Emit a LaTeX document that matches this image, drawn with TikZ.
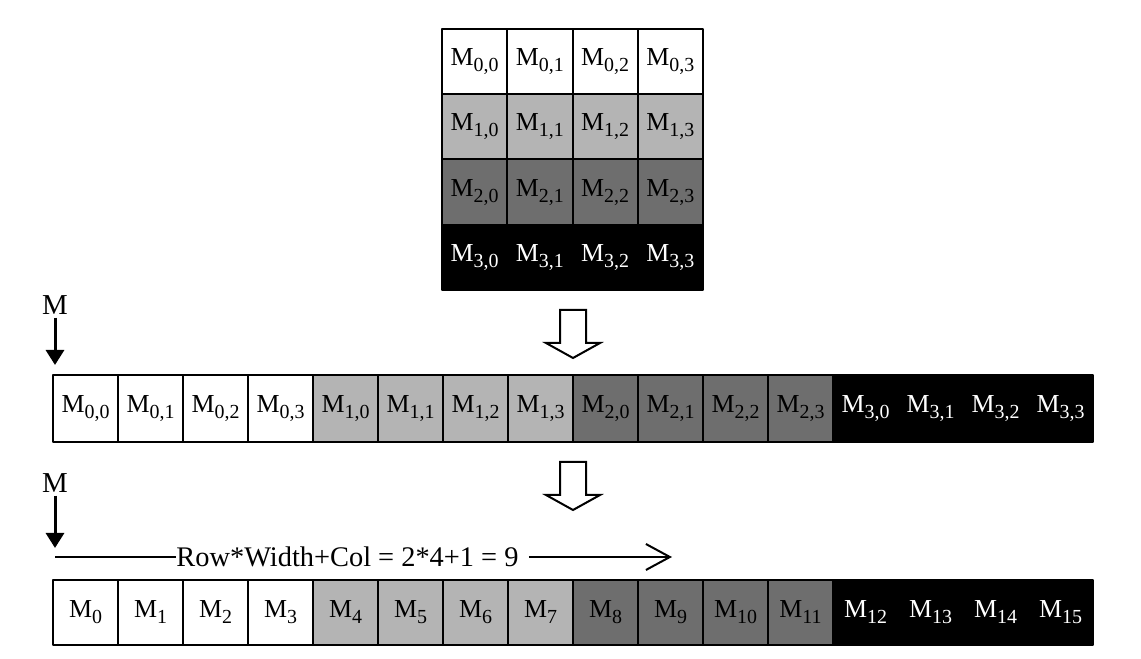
\documentclass[tikz,border=0pt]{standalone}
\usepackage{fontspec}
\setmainfont{Liberation Serif}
\usetikzlibrary{arrows.meta}
\definecolor{lightcell}{RGB}{180,180,180}
\definecolor{darkcell}{RGB}{110,110,110}
\newcommand{\Msub}[1]{M\raisebox{-6bp}{\fontsize{20}{20}\selectfont #1}}
\tikzset{
  cell/.style={draw=black,line width=2bp,rectangle,inner sep=0pt,font=\fontsize{26}{30}\selectfont},
  cellA/.style={cell,fill=white},
  cellB/.style={cell,fill=lightcell},
  cellC/.style={cell,fill=darkcell},
  cellD/.style={cell,fill=black,text=white},
  gridcell/.style={minimum width=65.25bp,minimum height=65.25bp},
  stripcell/.style={minimum width=65bp,minimum height=67bp},
  flatcell/.style={minimum width=65bp,minimum height=65bp},
  hollow/.style={draw=black,fill=white,line width=2bp,line join=miter},
  pointer/.style={font=\fontsize{29}{32}\selectfont,inner sep=3bp},
}
\begin{document}
\begin{tikzpicture}[>=latex,line join=bevel,x=1bp,y=1bp]
\useasboundingbox (0,0) rectangle (1141,659);
%% 4x4 matrix
\foreach \r/\sty in {0/cellA,1/cellB,2/cellC,3/cellD}{
  \foreach \c in {0,...,3}{
    \node (g\r\c) at ({442+65.25*(\c+0.5)},{630-65.25*(\r+0.5)}) [\sty,gridcell] {\Msub{\r,\c}};
  }
}
%% row by row
\foreach \r/\sty in {0/cellA,1/cellB,2/cellC,3/cellD}{
  \foreach \c in {0,...,3}{
    \pgfmathtruncatemacro{\i}{4*\r+\c}
    \node (s\i) at ({53+65*(\i+0.5)},250.5) [\sty,stripcell] {\Msub{\r,\c}};
  }
}
%% flat index
\foreach \r/\sty in {0/cellA,1/cellB,2/cellC,3/cellD}{
  \foreach \c in {0,...,3}{
    \pgfmathtruncatemacro{\i}{4*\r+\c}
    \node (l\i) at ({53+65*(\i+0.5)},46.5) [\sty,flatcell] {\Msub{\i}};
  }
}
%% hollow arrows
\foreach \yt in {349,197}{
  \draw [hollow] (560,\yt) -- (586,\yt) -- (586,\yt-33) -- (600,\yt-33) -- (573,\yt-48)
    -- (546,\yt-33) -- (560,\yt-33) -- cycle;
}
%% pointers
\node (ptrA) at (55,354) [pointer] {M};
\coordinate (tipA) at (55,294);
\draw [line width=3bp,-{Triangle[width=18bp,length=15bp]}] (ptrA) -- (tipA);
\node (ptrB) at (55,176) [pointer] {M};
\coordinate (tipB) at (55,111);
\draw [line width=3bp,-{Triangle[width=18bp,length=15bp]}] (ptrB) -- (tipB);
%% offset
\node (formula) at (347.5,102) [font=\fontsize{28.5}{32}\selectfont,inner xsep=0pt] {Row*Width+Col = 2*4+1 = 9};
\coordinate (fromF) at (55,102);
\coordinate (toF) at (672,102);
\draw [line width=2bp] (fromF) -- (formula.west);
\draw [line width=2bp,-{Straight Barb[length=24bp,width=26bp]}] ([xshift=10bp]formula.east) -- (toF);
%
\end{tikzpicture}
\end{document}
